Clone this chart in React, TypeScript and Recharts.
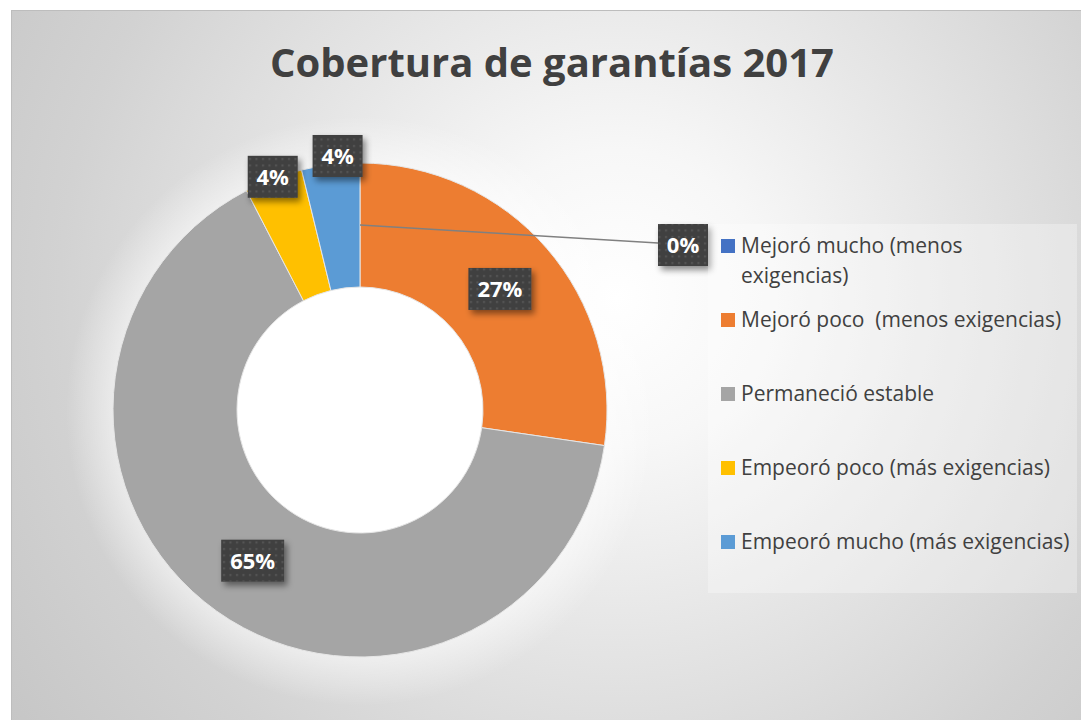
import React from 'react';
import { PieChart, Pie, Cell, Legend } from 'recharts';

const title = 'Cobertura de garantías 2017';
const categories = [
  'Mejoró mucho (menos exigencias)',
  'Mejoró poco  (menos exigencias)',
  'Permaneció estable',
  'Empeoró poco (más exigencias)',
  'Empeoró mucho (más exigencias)',
];
const values = [0, 27.3, 65.1, 3.8, 3.8];
const colors = ['#4472C4', '#ED7D31', '#A5A5A5', '#FFC000', '#5B9BD5'];

const data = categories.map((name, i) => ({ name, value: values[i] }));

const W = 1081;
const H = 720;
const CX = 360;
const CY = 410;
const INNER = 123;
const OUTER = 247;

const RAD = Math.PI / 180;
const polar = (cx: number, cy: number, r: number, a: number) => ({
  x: cx + r * Math.cos(-a * RAD),
  y: cy + r * Math.sin(-a * RAD),
});

// label placement styles (per slice)
const placement: any[] = [
  { kind: 'callout', dx: 323, dy: -165 },
  { kind: 'ring' },
  { kind: 'ring' },
  { kind: 'outside', rOff: 2, aOff: 0 },
  { kind: 'outside', rOff: 8, aOff: -1.8 },
];

const renderLabel = (props: any) => {
  const { cx, cy, midAngle, innerRadius, outerRadius, percent, index } = props;
  const p = placement[index] || { kind: 'ring' };
  const mid = (innerRadius + outerRadius) / 2;
  let x = 0;
  let y = 0;
  let line: any = null;
  const text = `${Math.round(percent * 100)}%`;
  const bw = 24 + 13 * text.length;
  const bh = 42;
  if (p.kind === 'ring') {
    const pt = polar(cx, cy, mid, midAngle);
    x = pt.x;
    y = pt.y;
  } else if (p.kind === 'outside') {
    const pt = polar(cx, cy, outerRadius + p.rOff, midAngle + p.aOff);
    x = pt.x;
    y = pt.y;
  } else {
    x = cx + p.dx;
    y = cy + p.dy;
    const s = polar(cx, cy, mid, midAngle);
    line = (
      <line x1={s.x} y1={s.y} x2={x - bw / 2} y2={y - 2} stroke="#808080" strokeWidth={1.5} />
    );
  }
  return (
    <g key={`lbl-${index}`}>
      {line}
      <rect
        x={x - bw / 2}
        y={y - bh / 2}
        width={bw}
        height={bh}
        fill="#404040"
        filter="url(#lblShadow)"
      />
      <rect x={x - bw / 2} y={y - bh / 2} width={bw} height={bh} fill="url(#dots)" />
      <text
        x={x}
        y={y}
        dy="0.36em"
        textAnchor="middle"
        fill="#ffffff"
        fontFamily="'Open Sans', sans-serif"
        fontWeight={700}
        fontSize={22}
      >
        {text}
      </text>
    </g>
  );
};

const renderLegend = () => (
  <div
    style={{
      width: 369,
      height: 369,
      background: 'rgba(255,255,255,0.3)',
      boxSizing: 'border-box',
      paddingTop: 6,
      fontFamily: "'Open Sans', sans-serif",
      fontSize: 21,
      color: '#404040',
    }}
  >
    {categories.map((c, i) => (
      <div key={c} style={{ display: 'flex', height: 74, alignItems: 'flex-start' }}>
        <div
          style={{
            width: 14,
            height: 14,
            background: colors[i],
            marginLeft: 13,
            marginTop: 9,
            flexShrink: 0,
          }}
        />
        <div style={{ marginLeft: 6, width: 334, lineHeight: '30px', whiteSpace: 'pre-wrap' }}>{c}</div>
      </div>
    ))}
  </div>
);

export default function App() {
  return (
    <div style={{ position: 'fixed', left: 0, top: 0, width: W, height: H, overflow: 'hidden', background: '#ffffff' }}>
      <svg width={0} height={0} style={{ position: 'absolute' }}>
        <defs>
          <filter id="lblShadow" x="-30%" y="-30%" width="160%" height="180%">
            <feDropShadow dx={3} dy={4} stdDeviation={3} floodColor="#000000" floodOpacity={0.45} />
          </filter>
          <pattern id="dots" x={0} y={0} width={6.5} height={6.5} patternUnits="userSpaceOnUse">
            <rect x={2} y={2} width={2} height={2} fill="#575757" />
          </pattern>
        </defs>
      </svg>
      <div
        style={{
          position: 'absolute',
          left: 11,
          top: 10,
          width: 1082,
          height: 720,
          boxSizing: 'border-box',
          border: '1px solid #bdbdbd',
          background:
            'radial-gradient(circle at 349px 400px, rgba(255,255,255,1) 0px, rgba(255,255,255,1) 128px, rgba(255,255,255,0) 131px), ' +
            'radial-gradient(circle at 349px 400px, rgba(255,255,255,0.5) 0px, rgba(255,255,255,0.5) 247px, rgba(255,255,255,0) 295px), ' +
            'radial-gradient(circle farthest-corner at 56% 40%, #ffffff 0%, #f7f7f7 20%, #e4e4e4 48%, #d2d2d2 75%, #c6c6c6 100%)',
        }}
      />
      <div style={{ position: 'absolute', left: 0, top: 0 }}>
        <PieChart width={W} height={H} margin={{ top: 0, right: 0, bottom: 0, left: 0 }}>
          <Pie
            data={data}
            dataKey="value"
            nameKey="name"
            cx={CX}
            cy={CY}
            innerRadius={INNER}
            outerRadius={OUTER}
            startAngle={90}
            endAngle={-270}
            stroke="#e6e6e6"
            strokeWidth={1}
            label={renderLabel}
            labelLine={false}
            isAnimationActive={false}
          >
            {data.map((d, i) => (
              <Cell key={d.name} fill={colors[i]} />
            ))}
          </Pie>
          <Legend
            layout="vertical"
            align="right"
            verticalAlign="top"
            content={renderLegend}
            wrapperStyle={{ left: 708, top: 224, right: 'auto', bottom: 'auto', width: 369, height: 369 }}
          />
        </PieChart>
      </div>
      <svg
        width={W}
        height={H}
        style={{ position: 'absolute', left: 0, top: 0, pointerEvents: 'none' }}
      >
        <text
          x={552}
          y={77}
          textAnchor="middle"
          fill="#404040"
          fontFamily="'Open Sans', sans-serif"
          fontWeight={700}
          fontSize={40}
        >
          {title}
        </text>
      </svg>
    </div>
  );
}
